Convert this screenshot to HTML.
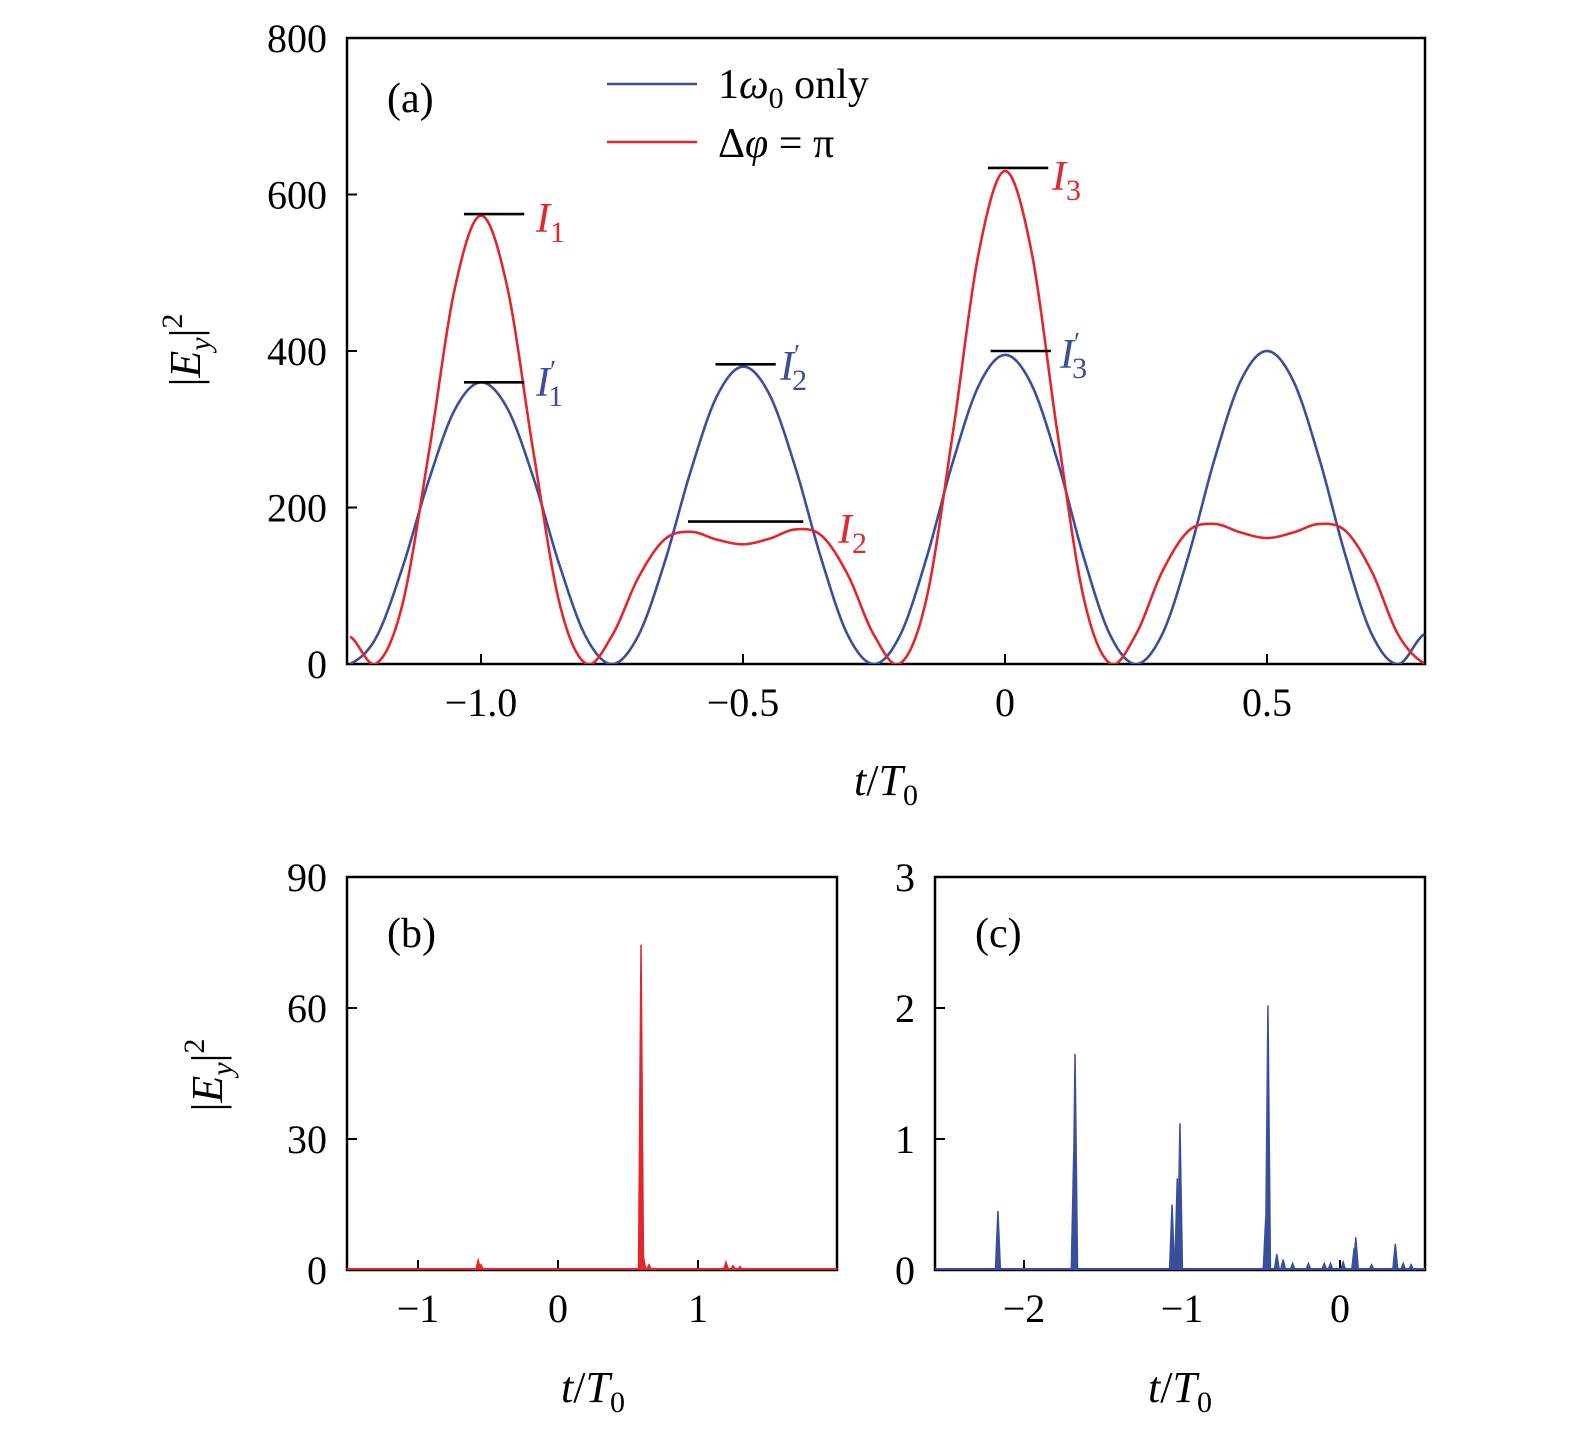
<!DOCTYPE html>
<html><head><meta charset="utf-8"><style>
body{margin:0;background:#fff}
svg{display:block;font-family:"Liberation Serif",serif}
</style></head><body>
<svg id="chart" width="1575" height="1437" viewBox="0 0 1575 1437" xmlns="http://www.w3.org/2000/svg">
<defs>
<clipPath id="ca"><rect x="347" y="38" width="1078" height="626"/></clipPath>
<clipPath id="cb"><rect x="347" y="877" width="490" height="393"/></clipPath>
<clipPath id="cc"><rect x="935" y="877" width="490" height="393"/></clipPath>
</defs>
<g id="pa"></g>
<g id="pb"></g>
<g id="pc"></g>
</svg>
<script>
// Panel (a) data
const aTimes = [-1.25,-1.2,-1.15,-1.1,-1.05,-1,-0.95,-0.9,-0.85,-0.8,-0.75,-0.7,-0.65,-0.6,-0.55,-0.5,-0.45,-0.4,-0.35,-0.3,-0.25,-0.2,-0.15,-0.1,-0.05,0,0.05,0.1,0.15,0.2,0.25,0.3,0.35,0.4,0.45,0.5,0.55,0.6,0.65,0.7,0.75,0.8];
const blueVals = [0,34,123,234,325,360,327,238,126,35,0,36,129,246,342,380,345,251,133,37,0,37,135,257,356,395,358,260,137,38,0,38,138,262,362,400,362,262,138,38,0,38];
const redVals = [35,0.6,76,268,480,573,482,271,77,0.7,36,110,159,169,159,153,160,172,164,114,37,0.7,83,293,526,630,529,296,85,1,38,118,170,179,168,161,168,179,170,118,38,1];
const aXTicks = [-1.0,-0.5,0,0.5];
const aXTickLabels = ["\u22121.0","\u22120.5","0","0.5"];
const aYTicks = [0,200,400,600,800];
// annotation levels
const annLevels = [575,360,383,182,634,400];
const annCenters = [-0.975,-0.975,-0.495,-0.495,0.025,0.03];
const annWidths = [0.115,0.115,0.115,0.22,0.115,0.115];
// Panel (b) data
const bSpikeT = [-0.57,-0.55,0.593,0.61,0.65,1.2,1.25,1.3];
const bSpikeV = [2.2,1.2,74.5,3,1.2,1.8,1.0,0.8];
const bXTicks = [-1,0,1];
const bXTickLabels = ["\u22121","0","1"];
const bYTicks = [0,30,60,90];
// Panel (c) data
const cSpikeT = [-2.165,-1.677,-1.685,-1.063,-1.013,-1.03,-0.456,-0.47,-0.4,-0.36,-0.3,-0.2,-0.1,-0.06,0.02,0.09,0.1,0.2,0.35,0.4,0.45];
const cSpikeV = [0.45,1.65,0.9,0.5,1.12,0.7,2.02,0.4,0.12,0.08,0.05,0.05,0.05,0.05,0.06,0.17,0.25,0.04,0.2,0.05,0.04];
const cXTicks = [-2,-1,0];
const cXTickLabels = ["\u22122","\u22121","0"];
const cYTicks = [0,1,2,3];

const NS="http://www.w3.org/2000/svg";
function mk(tag,attrs,parent){const e=document.createElementNS(NS,tag);for(const k in attrs)e.setAttribute(k,attrs[k]);parent.appendChild(e);return e;}
function lin(d0,d1,r0,r1){return v=>r0+(v-d0)*(r1-r0)/(d1-d0);}
function smoothPath(ts,vs,xs,ys){
  const n=ts.length;let d='';
  for(let i=0;i<n-1;i++){
    const p0=vs[Math.max(0,i-1)],p1=vs[i],p2=vs[i+1],p3=vs[Math.min(n-1,i+2)];
    for(let k=0;k<20;k++){const u=k/20;
      const v=0.5*((2*p1)+(-p0+p2)*u+(2*p0-5*p1+4*p2-p3)*u*u+(-p0+3*p1-3*p2+p3)*u*u*u);
      const t=ts[i]+(ts[i+1]-ts[i])*u;
      d+=(d?' L':'M')+xs(t).toFixed(2)+','+ys(Math.max(0,v)).toFixed(2);}
  }
  d+=' L'+xs(ts[n-1])+','+ys(vs[n-1]);
  return d;
}
function frame(g,x0,y0,x1,y1,xs,ys,xt,xtl,yt,name){
  const ax=mk('g',{},g);
  
  
  for(let i=0;i<xt.length;i++){const x=xs(xt[i]);
    const t=mk('line',{x1:x,x2:x,y1:y1,y2:y1-10,stroke:'#000','stroke-width':2},ax);
    
    
    const l=mk('text',{x:x,y:y1+52,'text-anchor':'middle','font-size':40},ax);l.textContent=xtl[i];
    
    }
  for(let i=0;i<yt.length;i++){const y=ys(yt[i]);
    const t=mk('line',{x1:x0,x2:x0+10,y1:y,y2:y,stroke:'#000','stroke-width':2},ax);
    
    
    const l=mk('text',{x:x0-20,y:y+14,'text-anchor':'end','font-size':40},ax);l.textContent=String(yt[i]);
    
    }
  const r=mk('rect',{x:x0,y:y0,width:x1-x0,height:y1-y0,fill:'none',stroke:'#000','stroke-width':2.5},ax);
  
  
}
function xlabel(g,x,y){const t=mk('text',{x:x,y:y,'text-anchor':'middle','font-size':44},g);
  t.innerHTML='<tspan font-style="italic">t</tspan>/<tspan font-style="italic">T</tspan><tspan font-size="30" dy="10">0</tspan>';
  
  }
function ylabel(g,x,y){const t=mk('text',{x:0,y:0,'text-anchor':'middle','font-size':44,transform:'translate('+x+','+y+') rotate(-90)'},g);
  t.innerHTML='|<tspan font-style="italic">E</tspan><tspan font-style="italic" font-size="30" dy="10">y</tspan><tspan dy="-10">|</tspan><tspan font-size="30" dy="-18">2</tspan>';
  
  }
function spikes(g,T,V,xs,ys,color,w,clip){
  const sg=mk('g',{'clip-path':clip},g);
  const base=mk('line',{x1:xs.r0,x2:xs.r1,y1:ys(0)-1,y2:ys(0)-1,stroke:color,'stroke-width':2},sg);
  
  
  for(let i=0;i<T.length;i++){const x=xs(T[i]);
    const p=mk('polygon',{points:(x-w)+','+ys(0)+' '+x+','+ys(V[i])+' '+(x+w)+','+ys(0),fill:color,stroke:color,'stroke-width':1.5},sg);
    
    }
}
// Panel a
const ga=document.getElementById('pa');
const axs=lin(-1,0.5,481,1267),ays=lin(0,800,664,38);
frame(ga,347,38,1425,664,axs,ays,aXTicks,aXTickLabels,aYTicks,'panel-a');
const cg=mk('g',{'clip-path':'url(#ca)'},ga);
const bp=mk('path',{d:smoothPath(aTimes,blueVals,axs,ays),fill:'none',stroke:'#3a4f9c','stroke-width':2.6},cg);


const rp=mk('path',{d:smoothPath(aTimes,redVals,axs,ays),fill:'none',stroke:'#e3262b','stroke-width':2.6},cg);


for(let i=0;i<annLevels.length;i++){const y=ays(annLevels[i]);
  const l=mk('line',{x1:axs(annCenters[i]-annWidths[i]/2),x2:axs(annCenters[i]+annWidths[i]/2),y1:y,y2:y,stroke:'#000','stroke-width':2.6},ga);
  
  }
const labs=[[536,232,'#e3262b','1',false],[536,396,'#3a4f9c','1',true],[780,380,'#3a4f9c','2',true],[838,543,'#e3262b','2',false],[1052,190,'#e3262b','3',false],[1060,368,'#3a4f9c','3',true]];
labs.forEach(a=>{const t=mk('text',{x:a[0],y:a[1],'font-size':42,fill:a[2],'font-style':'italic'},ga);
  t.innerHTML='I'+(a[4]?'<tspan font-size="28" dy="-16" font-style="normal">\u2032</tspan><tspan font-size="30" dy="26" dx="-8" font-style="normal">'+a[3]+'</tspan>':'<tspan font-size="30" dy="10" font-style="normal">'+a[3]+'</tspan>');
  
  });
const pl=mk('text',{x:387,y:112,'font-size':42},ga);pl.textContent='(a)';


const lg=mk('g',{},ga);


mk('line',{x1:607,x2:697,y1:84,y2:84,stroke:'#3a4f9c','stroke-width':2.6},lg);
const l1=mk('text',{x:718,y:98,'font-size':42},lg);l1.innerHTML='1<tspan font-style="italic">ω</tspan><tspan font-size="30" dy="10">0</tspan><tspan dy="-10"> only</tspan>';


mk('line',{x1:607,x2:697,y1:142,y2:142,stroke:'#e3262b','stroke-width':2.6},lg);
const l2=mk('text',{x:718,y:157,'font-size':42},lg);l2.innerHTML='Δ<tspan font-style="italic">φ</tspan> = π';


xlabel(ga,886,795);ylabel(ga,200,350);
// Panel b
const gb=document.getElementById('pb');
const bxs=lin(0,1,558,698),bys=lin(0,90,1270,877);bxs.r0=347;bxs.r1=837;
frame(gb,347,877,837,1270,bxs,bys,bXTicks,bXTickLabels,bYTicks,'panel-b');
spikes(gb,bSpikeT,bSpikeV,bxs,bys,'#e3262b',2.5,'url(#cb)');
const plb=mk('text',{x:387,y:947,'font-size':42},gb);plb.textContent='(b)';


xlabel(gb,593,1402);ylabel(gb,222,1075);
// Panel c
const gc=document.getElementById('pc');
const cxs=lin(0,1,1340,1498),cys=lin(0,3,1270,877);cxs.r0=935;cxs.r1=1425;
frame(gc,935,877,1425,1270,cxs,cys,cXTicks,cXTickLabels,cYTicks,'panel-c');
spikes(gc,cSpikeT,cSpikeV,cxs,cys,'#3a4f9c',2.5,'url(#cc)');
const plc=mk('text',{x:975,y:947,'font-size':42},gc);plc.textContent='(c)';


xlabel(gc,1180,1402);
</script>
</body></html>
